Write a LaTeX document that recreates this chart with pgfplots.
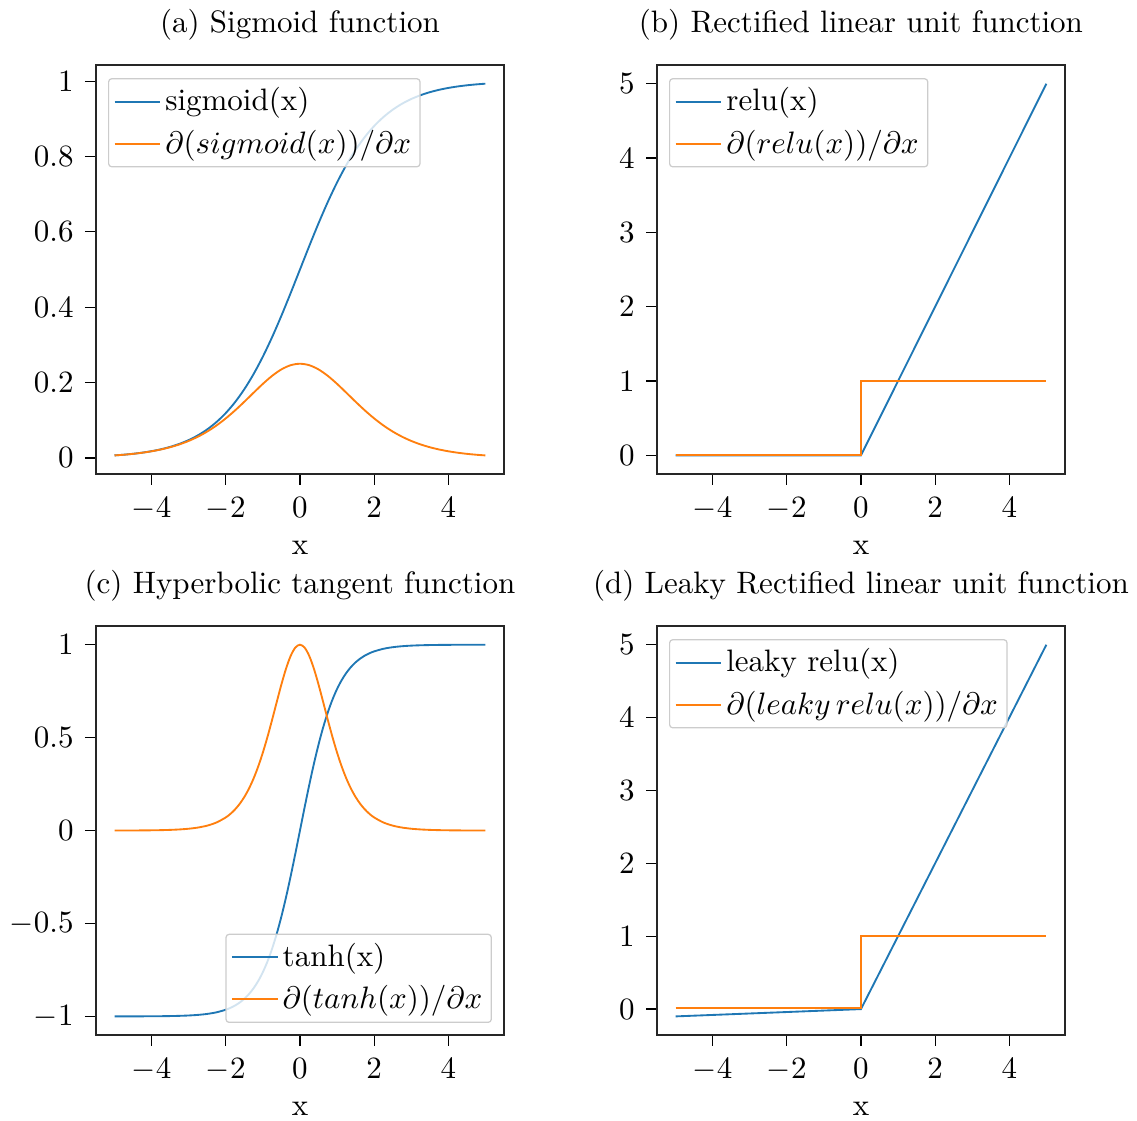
\documentclass[border=0pt]{standalone}
\usepackage{pgfplots}
\pgfplotsset{compat=1.18}
\newcommand{\px}{*0.3226pt}
\definecolor{tabblue}{HTML}{1F77B4}
\definecolor{taborange}{HTML}{FF7F0E}
\pgfplotsset{
  myax/.style={
    scale only axis, width=131.6pt, height=131.9pt,
    xmin=-5.5, xmax=5.5, xtick={-4,-2,0,2,4},
    tick align=outside, xtick pos=bottom, ytick pos=left,
    major tick length=3.55pt,
    every tick/.style={black, line width=0.4pt},
    axis line style={black!85, line width=0.5pt},
    xlabel={x},
    xlabel style={at={(axis description cs:0.5,0)}, anchor=base, yshift=-81\px},
    xticklabel style={anchor=base, yshift=-33\px},
    yticklabel style={anchor=east, xshift=-0.5\px},
    title style={at={(axis description cs:0.5,1)}, anchor=base, yshift=14\px},
    legend cell align=left,
    legend image code/.code={\draw[##1] (0pt,0pt) -- (14.8pt,0pt);},
    legend style={draw=black!20, fill=white, fill opacity=0.8, draw opacity=1, text opacity=1,
      rounded corners=1pt, inner xsep=1.6pt, inner ysep=1.6pt, row sep=2pt,
      nodes={inner xsep=1.3pt, inner ysep=1.3pt}},
    legul/.style={legend style={at={(axis description cs:0,1)}, anchor=north west, xshift=12\px, yshift=-13\px}},
    leglr/.style={legend style={at={(axis description cs:1,0)}, anchor=south east, xshift=-12\px, yshift=12\px}},
  },
  bl/.style={tabblue, line width=0.6pt},
  or/.style={taborange, line width=0.6pt},
}
\begin{document}
\begin{tikzpicture}
\useasboundingbox (0,0) rectangle (366.80pt,361.63pt);
% (a) Sigmoid
\begin{axis}[myax, legul, at={(30.97pt,208.72pt)}, anchor=south west,
  ymin=-0.0426, ymax=1.0426, ytick={0,0.2,0.4,0.6,0.8,1},
  title={(a) Sigmoid function}]
\addplot[bl, smooth] coordinates {
(-5,0.006693)(-4.75,0.008578)(-4.5,0.010987)(-4.25,0.014064)(-4,0.017986)(-3.75,0.022977)(-3.5,0.029312)(-3.25,0.037327)(-3,0.047426)(-2.75,0.060087)(-2.5,0.075858)(-2.25,0.095349)(-2,0.119203)(-1.75,0.148047)(-1.5,0.182426)(-1.25,0.222700)(-1,0.268941)(-0.75,0.320821)(-0.5,0.377541)(-0.25,0.437823)(0,0.5)(0.25,0.562177)(0.5,0.622459)(0.75,0.679179)(1,0.731059)(1.25,0.777300)(1.5,0.817574)(1.75,0.851953)(2,0.880797)(2.25,0.904651)(2.5,0.924142)(2.75,0.939913)(3,0.952574)(3.25,0.962673)(3.5,0.970688)(3.75,0.977023)(4,0.982014)(4.25,0.985936)(4.5,0.989013)(4.75,0.991422)(5,0.993307)};
\addlegendentry{sigmoid(x)}
\addplot[or, smooth] coordinates {
(-5,0.006648)(-4.75,0.008505)(-4.5,0.010866)(-4.25,0.013866)(-4,0.017663)(-3.75,0.022449)(-3.5,0.028453)(-3.25,0.035934)(-3,0.045177)(-2.75,0.056477)(-2.5,0.070104)(-2.25,0.086257)(-2,0.104994)(-1.75,0.126130)(-1.5,0.149146)(-1.25,0.173105)(-1,0.196612)(-0.75,0.217895)(-0.5,0.235004)(-0.25,0.246134)(0,0.25)(0.25,0.246134)(0.5,0.235004)(0.75,0.217895)(1,0.196612)(1.25,0.173105)(1.5,0.149146)(1.75,0.126130)(2,0.104994)(2.25,0.086257)(2.5,0.070104)(2.75,0.056477)(3,0.045177)(3.25,0.035934)(3.5,0.028453)(3.75,0.022449)(4,0.017663)(4.25,0.013866)(4.5,0.010866)(4.75,0.008505)(5,0.006648)};
\addlegendentry{$\partial(sigmoid(x))/\partial x$}
\end{axis}
% (b) ReLU
\begin{axis}[myax, legul, at={(211.95pt,208.72pt)}, anchor=south west,
  ymin=-0.25, ymax=5.25, ytick={0,1,2,3,4,5},
  title={(b) Rectified linear unit function}]
\addplot[bl] coordinates {(-5,0)(0,0)(5,5)};
\addlegendentry{relu(x)}
\addplot[or] coordinates {(-5,0)(0,0)(0,1)(5,1)};
\addlegendentry{$\partial(relu(x))/\partial x$}
\end{axis}
% (c) tanh
\begin{axis}[myax, leglr, at={(30.97pt,27.74pt)}, anchor=south west,
  ymin=-1.1, ymax=1.1, ytick={-1,-0.5,0,0.5,1},
  title={(c) Hyperbolic tangent function}]
\addplot[bl, smooth] coordinates {
(-5,-0.999909)(-4.75,-0.99985)(-4.5,-0.999753)(-4.25,-0.999593)(-4,-0.999329)(-3.75,-0.998894)(-3.5,-0.998178)(-3.25,-0.996998)(-3,-0.995055)(-2.75,-0.99186)(-2.5,-0.986614)(-2.25,-0.978026)(-2,-0.964028)(-1.875,-0.954046)(-1.75,-0.941376)(-1.625,-0.925346)(-1.5,-0.905148)(-1.375,-0.879826)(-1.25,-0.848284)(-1.125,-0.809302)(-1,-0.761594)(-0.875,-0.703906)(-0.75,-0.635149)(-0.625,-0.554600)(-0.5,-0.462117)(-0.375,-0.358357)(-0.25,-0.244918)(-0.125,-0.124353)(0,0)(0.125,0.124353)(0.25,0.244918)(0.375,0.358357)(0.5,0.462117)(0.625,0.554600)(0.75,0.635149)(0.875,0.703906)(1,0.761594)(1.125,0.809302)(1.25,0.848284)(1.375,0.879826)(1.5,0.905148)(1.625,0.925346)(1.75,0.941376)(1.875,0.954046)(2,0.964028)(2.25,0.978026)(2.5,0.986614)(2.75,0.99186)(3,0.995055)(3.25,0.996998)(3.5,0.998178)(3.75,0.998894)(4,0.999329)(4.25,0.999593)(4.5,0.999753)(4.75,0.99985)(5,0.999909)};
\addlegendentry{tanh(x)}
\addplot[or, smooth] coordinates {
(-5,0.000182)(-4.75,0.0003)(-4.5,0.000494)(-4.25,0.000814)(-4,0.001341)(-3.75,0.002211)(-3.5,0.003641)(-3.25,0.005995)(-3,0.009866)(-2.75,0.016214)(-2.5,0.026592)(-2.25,0.043465)(-2,0.070651)(-1.875,0.089796)(-1.75,0.113811)(-1.625,0.143735)(-1.5,0.180707)(-1.375,0.225906)(-1.25,0.280414)(-1.125,0.345030)(-1,0.419974)(-0.875,0.504516)(-0.75,0.596586)(-0.625,0.692419)(-0.5,0.786448)(-0.375,0.871580)(-0.25,0.940015)(-0.125,0.984536)(0,1)(0.125,0.984536)(0.25,0.940015)(0.375,0.871580)(0.5,0.786448)(0.625,0.692419)(0.75,0.596586)(0.875,0.504516)(1,0.419974)(1.125,0.345030)(1.25,0.280414)(1.375,0.225906)(1.5,0.180707)(1.625,0.143735)(1.75,0.113811)(1.875,0.089796)(2,0.070651)(2.25,0.043465)(2.5,0.026592)(2.75,0.016214)(3,0.009866)(3.25,0.005995)(3.5,0.003641)(3.75,0.002211)(4,0.001341)(4.25,0.000814)(4.5,0.000494)(4.75,0.0003)(5,0.000182)};
\addlegendentry{$\partial(tanh(x))/\partial x$}
\end{axis}
% (d) leaky relu
\begin{axis}[myax, legul, at={(211.95pt,27.74pt)}, anchor=south west,
  ymin=-0.355, ymax=5.255, ytick={0,1,2,3,4,5},
  title={(d) Leaky Rectified linear unit function}]
\addplot[bl] coordinates {(-5,-0.1)(0,0)(5,5)};
\addlegendentry{leaky relu(x)}
\addplot[or] coordinates {(-5,0.02)(0,0.02)(0,1)(5,1)};
\addlegendentry{$\partial(leaky\,relu(x))/\partial x$}
\end{axis}
\end{tikzpicture}
\end{document}
